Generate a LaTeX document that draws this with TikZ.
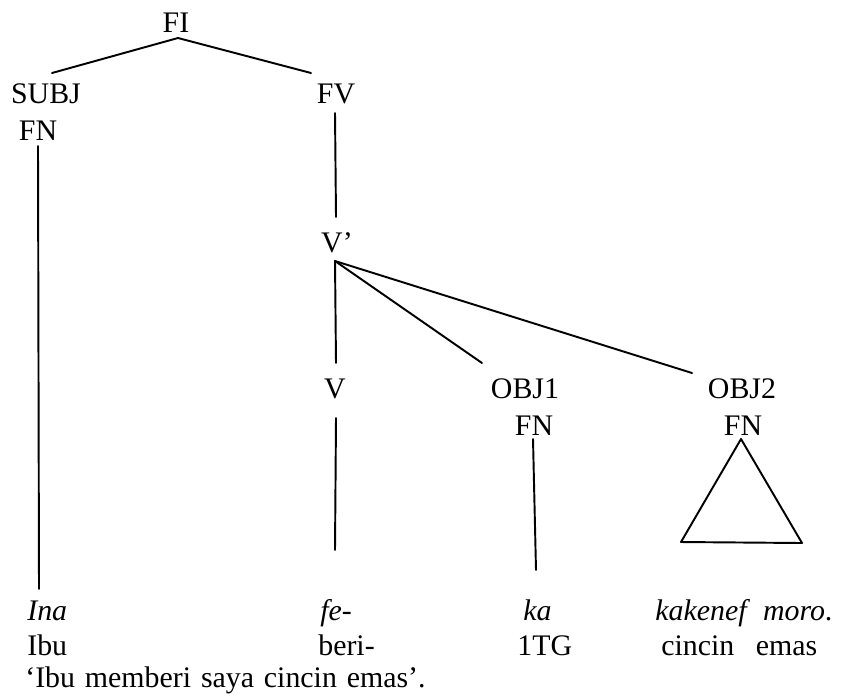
\documentclass[tikz,border=0pt]{standalone}
\usepackage{fontspec}
\setmainfont{Liberation Serif}
\usetikzlibrary{calc}

\begin{document}
\begin{tikzpicture}[
    x=0.02cm, y=-0.02cm,
    cat/.style={inner sep=0pt, anchor=base, font=\fontsize{17}{20}\selectfont},
    word/.style={cat, anchor=base west},
    branch/.style={line width=1.1pt, line cap=round, line join=round}
]
\useasboundingbox (0,0) rectangle (848,698);

% category labels
\node[cat] (fi) at (176,32) {FI};
\node[cat] (subj) at (46,103) {SUBJ};
\node[cat] (fnsubj) at (38,140) {FN};
\node[cat] (fv) at (336,103) {FV};
\node[cat] (vbar) at (337,252) {V’};
\node[cat] (v) at (335,398) {V};
\node[cat] (obj1) at (525,398) {OBJ1};
\node[cat] (fnobj1) at (534,435) {FN};
\node[cat] (obj2) at (742,398) {OBJ2};
\node[cat] (fnobj2) at (743,435) {FN};

% words and glosses
\node[word] (ina) at (27,620) {\textit{Ina}};
\node[word] (ibu) at (27,655) {Ibu};
\node[word] (fe) at (320,620) {\textit{fe-}};
\node[word] (beri) at (318,655) {beri-};
\node[word] (ka) at (523,620) {\textit{ka}};
\node[word] (tg) at (517,655) {1TG};
\node[word] (kakenef) at (655,620) {\textit{kakenef\hspace{0.55em}moro}.};
\node[word] (cincin) at (661,655) {cincin\hspace{0.72em}emas};
\node[word] (trans) at (25,687) {\spaceskip=0.33em\relax ‘Ibu memberi saya cincin emas’.};

% branch ends
\coordinate (fi-foot) at (178,38);
\coordinate (subj-head) at (52,73);
\coordinate (fv-head) at (311,73);
\coordinate (fnsubj-foot) at (38,146);
\coordinate (ina-head) at (39,589);
\coordinate (fv-foot) at (335,113);
\coordinate (vbar-head) at (336,217);
\coordinate (vbar-foot) at (335,261);
\coordinate (v-head) at (336,363);
\coordinate (obj1-head) at (482,363);
\coordinate (obj2-head) at (692,373);
\coordinate (v-foot) at (336,418);
\coordinate (fe-head) at (335,550);
\coordinate (fnobj1-foot) at (533,439);
\coordinate (ka-head) at (536,570);
\coordinate (roof-top) at (741,439);
\coordinate (roof-left) at (681,542);
\coordinate (roof-right) at (802,543);

\draw[branch] (subj-head) -- (fi-foot) -- (fv-head);
\draw[branch] (fnsubj-foot) -- (ina-head);
\draw[branch] (fv-foot) -- (vbar-head);
\draw[branch] (vbar-foot) -- (v-head);
\draw[branch] (vbar-foot) -- (obj1-head);
\draw[branch] (vbar-foot) -- (obj2-head);
\draw[branch] (v-foot) -- (fe-head);
\draw[branch] (fnobj1-foot) -- (ka-head);
\draw[branch] (roof-top) -- (roof-left) -- (roof-right) -- cycle;

\end{tikzpicture}
\end{document}
